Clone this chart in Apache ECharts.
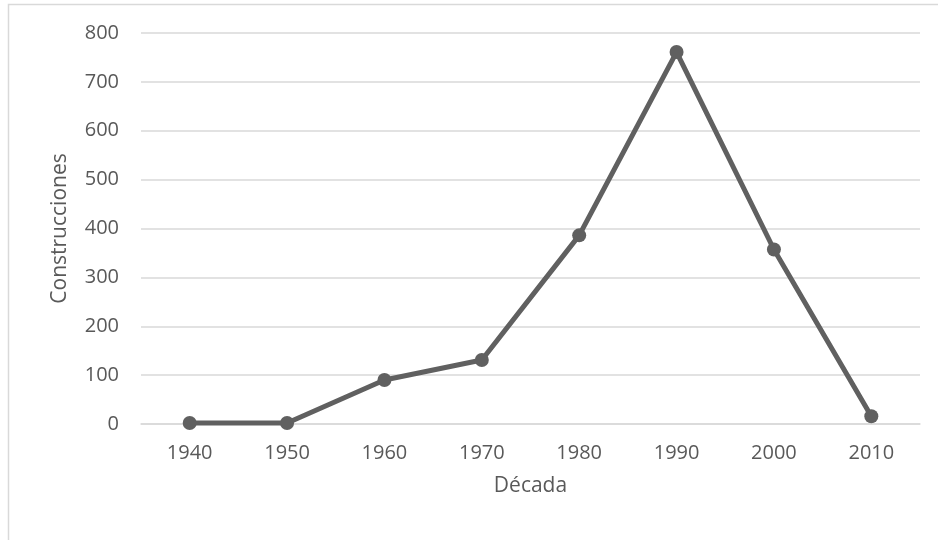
<!DOCTYPE html>
<html><head><meta charset="utf-8">
<script src="https://cdn.jsdelivr.net/npm/echarts@6/dist/echarts.min.js"></script>
<style>html,body{margin:0;padding:0;background:#fff}#c{width:938px;height:540px}</style>
</head><body><div id="c"></div>
<script>
const categories = ['1940','1950','1960','1970','1980','1990','2000','2010'];
const construcciones = [2, 2, 90, 131, 386, 761, 357, 16];
const yTicks = [0, 100, 200, 300, 400, 500, 600, 700, 800];

const chart = echarts.init(document.getElementById('c'), null, {renderer:'canvas'});
const font = '"Open Sans", sans-serif';
chart.setOption({
  animation: false,
  graphic: [{type:'rect', shape:{x:8.5, y:4.5, width:1000, height:1000}, style:{fill:'none', stroke:'#d9d9d9', lineWidth:1.5}, silent:true}],
  grid: {left:141, right:18, top:33, bottom:116, containLabel:false},
  xAxis: {
    type:'category', data:categories, boundaryGap:true,
    name:'Década', nameLocation:'middle', nameGap:52,
    nameTextStyle:{color:'#595959', fontSize:21, fontFamily:font},
    axisLine:{show:true, lineStyle:{color:'#d9d9d9', width:1.5}},
    axisTick:{show:false},
    axisLabel:{color:'#595959', fontSize:20, fontFamily:font, margin:19}
  },
  yAxis: {
    type:'value', min:yTicks[0], max:yTicks[yTicks.length-1], interval:100,
    name:'Construcciones', nameLocation:'middle', nameGap:70,
    nameTextStyle:{color:'#595959', fontSize:21, fontFamily:font},
    axisLine:{show:false}, axisTick:{show:false},
    axisLabel:{color:'#595959', fontSize:20, fontFamily:font, margin:22},
    splitLine:{lineStyle:{color:'#d9d9d9', width:1.5}}
  },
  series: [{
    type:'line', data:construcciones,
    symbol:'circle', symbolSize:14,
    lineStyle:{color:'#606060', width:5},
    itemStyle:{color:'#606060'}
  }]
});
</script></body></html>
